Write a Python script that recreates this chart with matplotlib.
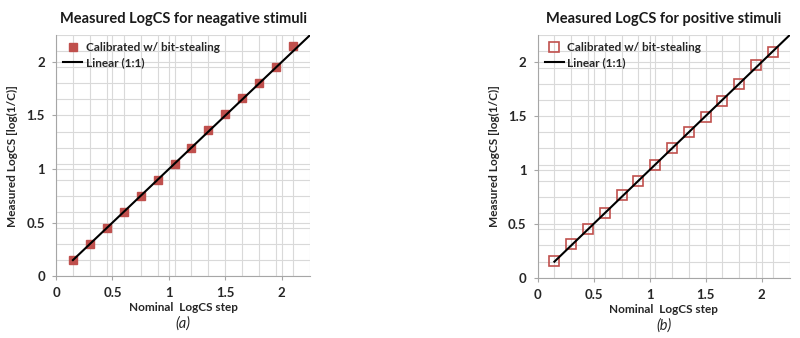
import numpy as np
import matplotlib.pyplot as plt
from matplotlib.ticker import MultipleLocator

plt.rcParams['font.family'] = ['Lato', 'DejaVu Sans']

nominal = [0.15, 0.3, 0.45, 0.6, 0.75, 0.9, 1.05, 1.2, 1.35, 1.5, 1.65, 1.8, 1.95, 2.1]
measured_neg = [0.15, 0.30, 0.45, 0.60, 0.75, 0.90, 1.05, 1.20, 1.36, 1.51, 1.66, 1.80, 1.95, 2.15]
measured_pos = [0.16, 0.31, 0.45, 0.60, 0.77, 0.90, 1.05, 1.20, 1.35, 1.49, 1.64, 1.80, 1.97, 2.09]
line_x = [0.15, 2.3]
major_ticks = [0, 0.5, 1, 1.5, 2]
tick_labels = ["0", "0.5", "1", "1.5", "2"]

titles = ["Measured LogCS for neagative stimuli", "Measured LogCS for positive stimuli"]
captions = ["(a)", "(b)"]

RED = "#C0504D"
GRID = "#D9D9D9"

fig = plt.figure(figsize=(8, 3.38), dpi=100)
ax_a = fig.add_axes([0.07, 0.183, 0.3175, 0.713])
ax_b = fig.add_axes([0.672, 0.178, 0.315, 0.718])


def panel(ax, y, filled, title, caption):
    ax.set_xlim(0, 2.25)
    ax.set_ylim(0, 2.25)
    ax.set_xticks(major_ticks)
    ax.set_yticks(major_ticks)
    ax.set_xticklabels(tick_labels, fontweight="bold")
    ax.set_yticklabels(tick_labels, fontweight="bold")
    ax.xaxis.set_minor_locator(MultipleLocator(0.15))
    ax.yaxis.set_minor_locator(MultipleLocator(0.15))
    ax.grid(True, which="both", color=GRID, lw=0.8)
    ax.set_axisbelow(True)
    for s in ["top", "right"]:
        ax.spines[s].set_visible(False)
    for s in ["left", "bottom"]:
        ax.spines[s].set_color("#A6A6A6")
    ax.tick_params(which="minor", length=0)
    ax.tick_params(which="major", length=3, color="#A6A6A6", labelsize=9.5,
                   labelcolor="#262626", pad=5)

    if filled:
        ax.plot(nominal, y, "s", ms=6, color=RED, mec=RED, ls="none",
                label="Calibrated w/ bit-stealing", zorder=3)
    else:
        ax.plot(nominal, y, "s", ms=7.5, mfc="none", mec=RED, mew=1.2, ls="none",
                label="Calibrated w/ bit-stealing", zorder=3)
    ax.plot(line_x, line_x, color="black", lw=1.5, label="Linear (1:1)", zorder=4)

    ax.set_title(title, fontsize=10.5, fontweight="bold", color="#1a1a1a", pad=9)
    ax.set_xlabel("Nominal  LogCS step", fontsize=8.5, fontweight="bold",
                  color="#262626", labelpad=2)
    ax.set_ylabel("Measured LogCS [log(1/C)]", fontsize=8.5, fontweight="bold",
                  color="#262626", labelpad=6)
    leg = ax.legend(loc="upper left", frameon=False, fontsize=8.5, handlelength=1.6,
                    handletextpad=0.3, borderaxespad=0.2, labelspacing=0.35)
    for t in leg.get_texts():
        t.set_fontweight("bold")
        t.set_color("#262626")
    ax.text(0.5, -0.195, caption, transform=ax.transAxes, ha="center", va="center",
            fontsize=10.5, style="italic", color="#262626")


panel(ax_a, measured_neg, True, titles[0], captions[0])
panel(ax_b, measured_pos, False, titles[1], captions[1])

fig.savefig("out.png", dpi=100)
